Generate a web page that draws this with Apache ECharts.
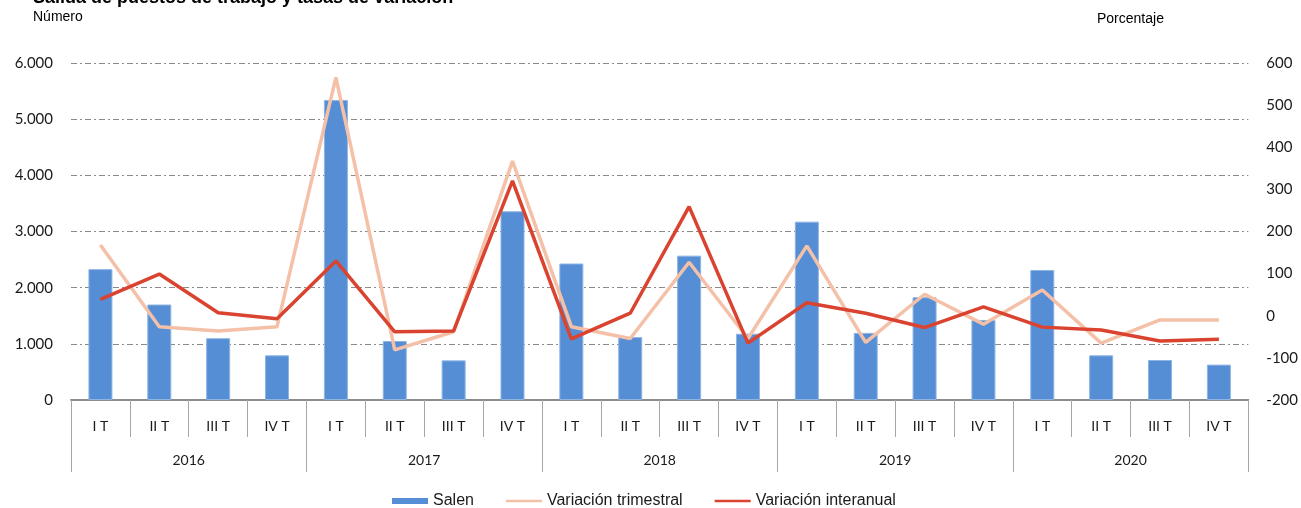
<!DOCTYPE html>
<html>
<head>
<meta charset="utf-8">
<script src="https://cdn.jsdelivr.net/npm/echarts@6/dist/echarts.min.js"></script>
<style>
  html, body { margin: 0; padding: 0; background: #fff; }
  #chart { width: 1301px; height: 508px; }
</style>
</head>
<body>
<div id="chart"></div>
<script>
// datos
const quarters = ['I T', 'II T', 'III T', 'IV T',
  'I T', 'II T', 'III T', 'IV T',
  'I T', 'II T', 'III T', 'IV T',
  'I T', 'II T', 'III T', 'IV T',
  'I T', 'II T', 'III T', 'IV T'];
const years = ['2016', '2017', '2018', '2019', '2020'];

// número de salidas
const salen = [2330, 1700, 1100, 795, 5340, 1050, 706, 3360,
  2430, 1120, 2570, 1180, 3175, 1195, 1830, 1425,
  2315, 795, 712, 630];
// porcentajes
const varTrimestral = [168, -26, -36, -26, 566, -81, -38, 367,
  -26, -54, 127, -54, 166, -63, 51, -20,
  61, -65, -10, -10];
const varInteranual = [39, 99, 7, -7, 130, -38, -36, 320,
  -55, 6, 259, -65, 31, 6, -28, 21,
  -27, -34, -60, -56];

const tickFont = 'Lato, "Open Sans", sans-serif';
const textFont = '"Liberation Sans", Arial, sans-serif';
const lineIcon = 'path://M0,0H40V3H0Z';

const chart = echarts.init(document.getElementById('chart'));

chart.setOption({
  animation: false,
  backgroundColor: '#ffffff',
  graphic: [
    {
      type: 'text', left: 33, top: -11,
      style: { text: 'Salida de puestos de trabajo y tasas de variación', font: 'bold 18px ' + textFont, fill: '#000' }
    },
    {
      type: 'text', left: 33, top: 10,
      style: { text: 'Número', font: '14px ' + textFont, fill: '#000' }
    },
    {
      type: 'text', left: 1097, top: 12,
      style: { text: 'Porcentaje', font: '14px ' + textFont, fill: '#000' }
    }
  ],
  legend: {
    left: 387,
    top: 488,
    itemWidth: 36,
    itemHeight: 6,
    itemGap: 32,
    textStyle: { fontFamily: textFont, fontSize: 16, color: '#1a1a1a' },
    data: [
      { name: 'Salen', icon: 'rect', itemStyle: { borderWidth: 0 } },
      { name: 'Variación trimestral', icon: lineIcon },
      { name: 'Variación interanual', icon: lineIcon }
    ]
  },
  grid: { left: 71, right: 51, top: 63, bottom: 108 },
  xAxis: [
    {
      type: 'category',
      data: quarters,
      position: 'bottom',
      axisLine: { onZero: false, lineStyle: { color: '#8c8c8c', width: 2 } },
      axisTick: { show: true, interval: 0, length: 37, lineStyle: { color: '#a6a6a6' } },
      axisLabel: { interval: 0, margin: 19, fontFamily: tickFont, fontSize: 14, color: '#1a1a1a' }
    },
    {
      type: 'category',
      data: years,
      position: 'bottom',
      axisLine: { show: false, onZero: false },
      axisTick: { show: true, interval: 0, length: 72, lineStyle: { color: '#a6a6a6' } },
      axisLabel: { interval: 0, margin: 53, fontFamily: tickFont, fontSize: 14, color: '#1a1a1a' }
    }
  ],
  yAxis: [
    {
      type: 'value',
      min: 0, max: 6000, interval: 1000,
      axisLine: { show: false },
      axisTick: { show: false },
      axisLabel: {
        margin: 18, fontFamily: tickFont, fontSize: 15, color: '#1a1a1a',
        formatter: v => v >= 1000 ? Math.floor(v / 1000) + '.' + String(v % 1000).padStart(3, '0') : String(v)
      },
      splitLine: { lineStyle: { color: '#8a8a8a', width: 1, type: [6, 3, 2, 3] } }
    },
    {
      type: 'value',
      min: -200, max: 600, interval: 100,
      axisLine: { show: false },
      axisTick: { show: false },
      axisLabel: { margin: 18, fontFamily: tickFont, fontSize: 15, color: '#1a1a1a' },
      splitLine: { show: false }
    }
  ],
  series: [
    {
      name: 'Salen',
      type: 'bar',
      xAxisIndex: 0,
      yAxisIndex: 0,
      barWidth: 24,
      itemStyle: { color: '#558ed5', borderColor: '#8db4e2', borderWidth: 1 },
      data: salen
    },
    {
      name: 'Variación trimestral',
      type: 'line',
      xAxisIndex: 0,
      yAxisIndex: 1,
      symbol: 'none',
      lineStyle: { color: '#f4c1a8', width: 3.5 },
      itemStyle: { color: '#f4c1a8' },
      data: varTrimestral
    },
    {
      name: 'Variación interanual',
      type: 'line',
      xAxisIndex: 0,
      yAxisIndex: 1,
      symbol: 'none',
      lineStyle: { color: '#d9432f', width: 3.5 },
      itemStyle: { color: '#d9432f' },
      data: varInteranual
    }
  ]
});
</script>
</body>
</html>
